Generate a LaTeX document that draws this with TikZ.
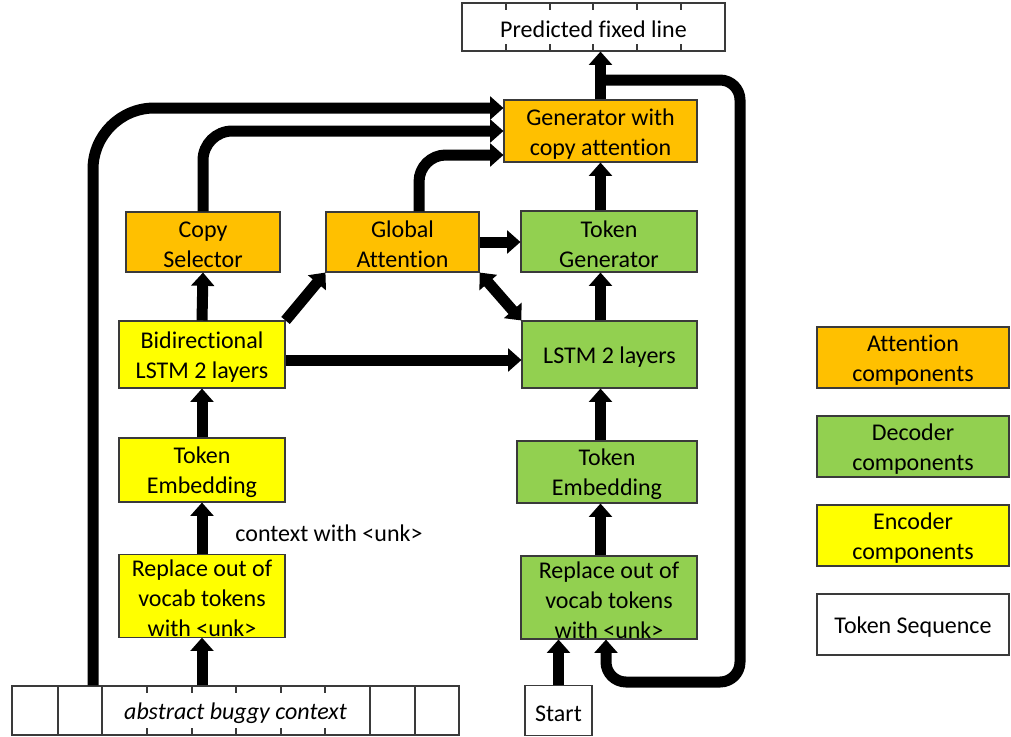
\documentclass[tikz,border=0pt]{standalone}
\usepackage{fontspec}
\setmainfont{Carlito}[Ligatures=NoCommon]
\usetikzlibrary{arrows.meta}
\definecolor{attc}{HTML}{FFC000}
\definecolor{decc}{HTML}{92D050}
\definecolor{encc}{HTML}{FFFF00}
\definecolor{boxline}{HTML}{3A3A3A}
\newcommand{\fstrut}{\rule{0pt}{16.5pt}}
\begin{document}
\begin{tikzpicture}[x=0.75pt,y=-0.75pt,
  font=\fontsize{18}{22.5}\selectfont,
  box/.style={draw=boxline, line width=0.8pt, align=center, inner sep=0pt},
  attbox/.style={box, fill=attc},
  decbox/.style={box, fill=decc},
  encbox/.style={box, fill=encc},
  tokbox/.style={box, fill=white},
  arr/.style={line width=8.25pt, -{Triangle[width=17pt,length=10pt]}},
  darr/.style={line width=8.25pt, {Triangle[width=17pt,length=10pt]}-{Triangle[width=17pt,length=10pt]}},
  tick/.style={draw=boxline, line width=0.8pt}
]
\useasboundingbox (0,0) rectangle (1011,736);

% token sequences
\node[tokbox, minimum width=197.25pt, minimum height=36pt] (pred) at (593.5,27) {\fstrut Predicted fixed line};
\foreach \x in {506,550,593,637,681} {
  \draw[tick] (\x,3) -- (\x,10);
  \draw[tick] (\x,44) -- (\x,51);
}
\node[tokbox, minimum width=335.25pt, minimum height=36.75pt] (seq) at (235.5,710.5) {\fstrut\itshape abstract buggy context};
\foreach \x in {58,102,370,415} \draw[tick] (\x,686) -- (\x,735);
\foreach \x in {147,192,236,281,325} {
  \draw[tick] (\x,686) -- (\x,693);
  \draw[tick] (\x,728) -- (\x,735);
}
\node[tokbox, minimum width=50.25pt, minimum height=37.5pt] (start) at (558.5,710.5) {\fstrut Start};

% components
\node[attbox, minimum width=144.75pt, minimum height=46.5pt] (gen) at (600.5,131) {\fstrut Generator with\\copy attention};
\node[decbox, minimum width=132pt, minimum height=45.75pt] (tokgen) at (609,241.5) {\fstrut Token\\Generator};
\node[attbox, minimum width=114.75pt, minimum height=45pt] (glob) at (402.5,242) {\fstrut Global\\Attention};
\node[attbox, minimum width=115.5pt, minimum height=45pt] (copy) at (203,242) {\fstrut Copy\\Selector};
\node[encbox, minimum width=124.5pt, minimum height=50.25pt] (bidi) at (202,354.5) {\fstrut Bidirectional\\LSTM 2 layers};
\node[decbox, minimum width=131.25pt, minimum height=50.25pt] (lstm) at (609.5,354.5) {\fstrut LSTM 2 layers};
\node[encbox, minimum width=124.5pt, minimum height=48pt] (embL) at (202,470) {\fstrut Token\\Embedding};
\node[decbox, minimum width=135pt, minimum height=46.5pt] (embR) at (607,472) {\fstrut Token\\Embedding};
\node[encbox, minimum width=124.5pt, minimum height=61.5pt] (repL) at (202,596) {\fstrut Replace out of\\vocab tokens\\with <unk>};
\node[decbox, minimum width=132pt, minimum height=62.25pt] (repR) at (609,597.5) {\fstrut Replace out of\\vocab tokens\\with <unk>};

\node[inner sep=0pt] (ctx) at (329,533) {context with <unk>};

% legend
\node[attbox, minimum width=144pt, minimum height=45.75pt] (legatt) at (913,357.5) {\fstrut Attention\\components};
\node[decbox, minimum width=144pt, minimum height=45.75pt] (legdec) at (913,446.5) {\fstrut Decoder\\components};
\node[encbox, minimum width=144pt, minimum height=45.75pt] (legenc) at (913,535.5) {\fstrut Encoder\\components};
\node[tokbox, minimum width=144pt, minimum height=45.75pt] (legtok) at (913,624.5) {\fstrut Token Sequence};

% helper coordinates
\coordinate (c1) at (93,0);
\coordinate (c3) at (0,360);
\coordinate (ls) at (600.5,80);
\coordinate (lx) at (606,682);

% encoder side
\draw[arr] (repL.south |- seq.north) -- (repL.south);
\draw[arr] (repL.north) -- (embL.south);
\draw[arr] (embL.north) -- (bidi.south);
\draw[arr] (bidi.north) -- (copy.south);
\draw[arr] (bidi.north east) -- (glob.south west);
\draw[arr] (bidi.east |- c3) -- (lstm.west |- c3);
\draw[darr] (glob.south east) -- (lstm.north west);
\draw[arr] (glob.east) -- (tokgen.west |- glob.east);

% to generator
\draw[arr, rounded corners=46pt] (seq.north -| c1) |- ([yshift=17.25pt]gen.west);
\draw[arr, rounded corners=22pt] (copy.north) |- (gen.west);
\draw[arr, rounded corners=20pt] ([xshift=12.4pt]glob.north) |- ([yshift=-18pt]gen.west);

% decoder side
\draw[arr] (start.north) -- (repR.south -| start.north);
\draw[arr] (repR.north -| gen.north) -- (embR.south -| gen.north);
\draw[arr] (embR.north -| gen.north) -- (lstm.south -| gen.north);
\draw[arr] (lstm.north -| gen.north) -- (tokgen.south -| gen.north);
\draw[arr] (tokgen.north -| gen.north) -- (gen.south);
\draw[arr] (gen.north) -- (pred.south -| gen.north);

% feedback loop
\draw[arr, rounded corners=15pt] (ls) -- (740,80) -- (740,682) -- (lx) -- (repR.south -| lx);
\end{tikzpicture}
\end{document}
